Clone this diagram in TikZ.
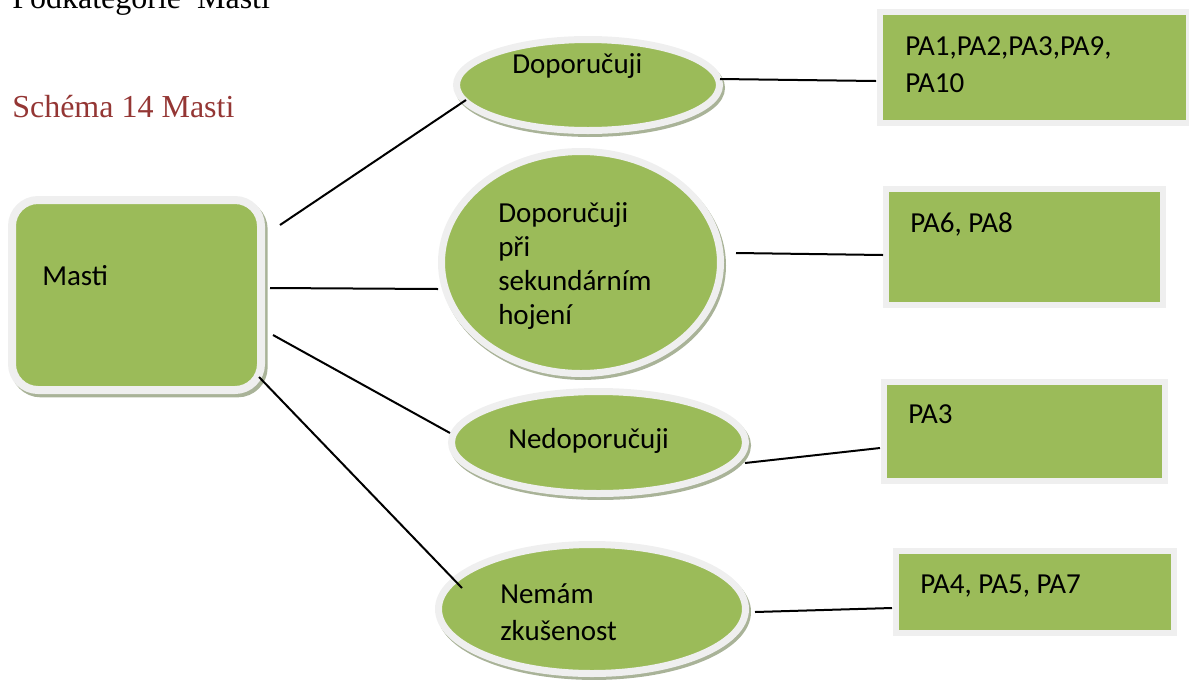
\documentclass[tikz,border=0pt]{standalone}
\usepackage{fontspec}
\setmainfont{Liberation Serif}
\newfontfamily\calib{Carlito}
\usetikzlibrary{shapes.geometric}
\definecolor{olgreen}{HTML}{9BBB59}
\definecolor{rimc}{HTML}{EFEFEF}
\definecolor{shadc}{HTML}{A9B398}
\definecolor{titred}{HTML}{943634}
\def\pxu{0.75pt}
\tikzset{
  ell/.style={ellipse, inner sep=0pt, fill=olgreen, draw=rimc, line width=7*\pxu,
    preaction={draw=shadc, fill=shadc, line width=7*\pxu, transform canvas={shift={(1.5pt,-2.2pt)}}}},
  rbox/.style={rectangle, inner sep=0pt, fill=olgreen, draw=rimc, line width=6*\pxu},
  mbox/.style={rectangle, rounded corners=26*\pxu, inner sep=0pt, fill=olgreen, draw=rimc, line width=8*\pxu,
    preaction={draw=shadc, fill=shadc, line width=8*\pxu, transform canvas={shift={(2pt,-2.5pt)}}}},
  lbl/.style={anchor=base west, inner sep=0pt, font=\calib\fontsize{21.75pt}{26pt}\selectfont},
  conn/.style={draw=black, line width=1.5pt},
}
\begin{document}
\begin{tikzpicture}[x=0.75pt,y=-0.75pt]
\useasboundingbox (0,0) rectangle (1189,679);
% headings
\node[anchor=base west, inner sep=0pt, font=\fontsize{24pt}{28pt}\selectfont] (podk) at (12,8) {Podkategorie\ \ Masti};
\node[anchor=base west, inner sep=0pt, text=titred, font=\fontsize{24pt}{28pt}\selectfont] (schema) at (12,117) {Schéma 14 Masti};
% main box
\node[mbox, minimum width=249*\pxu, minimum height=190*\pxu] (masti) at (136.5,295) {};
\node[lbl] (mastit) at (42,285) {Masti};
% ellipses
\node[ell, minimum width=263*\pxu, minimum height=91*\pxu] (e1) at (588,85) {};
\node[lbl] (e1t) at (512,73) {Doporučuji};
\node[ell, minimum width=279*\pxu, minimum height=222*\pxu] (e2) at (581,262.5) {};
\node[lbl] (e2a) at (498,222) {Doporučuji};
\node[lbl] (e2b) at (498,256) {při};
\node[lbl] (e2c) at (498,290.5) {sekundárním};
\node[lbl] (e2d) at (498,324.5) {hojení};
\node[ell, minimum width=294*\pxu, minimum height=102*\pxu] (e3) at (598.5,442.5) {};
\node[lbl] (e3t) at (508,448) {Nedoporučuji};
\node[ell, minimum width=307*\pxu, minimum height=129*\pxu] (e4) at (592,609) {};
\node[lbl] (e4a) at (500,603) {Nemám};
\node[lbl] (e4b) at (500,640) {zkušenost};
% rectangles
\node[rbox, minimum width=309*\pxu, minimum height=111*\pxu] (r1) at (1034,67.5) {};
\node[lbl] (r1a) at (905,55) {PA1,PA2,PA3,PA9,};
\node[lbl] (r1b) at (905,92) {PA10};
\node[rbox, minimum width=277*\pxu, minimum height=116*\pxu] (r2) at (1024.5,247) {};
\node[lbl] (r2t) at (910,232) {PA6, PA8};
\node[rbox, minimum width=281*\pxu, minimum height=99*\pxu] (r3) at (1024.5,431.5) {};
\node[lbl] (r3t) at (908,423) {PA3};
\node[rbox, minimum width=278*\pxu, minimum height=82*\pxu] (r4) at (1035,592) {};
\node[lbl] (r4t) at (920,593) {PA4, PA5, PA7};
% connector end points
\coordinate (m1) at (280,225);  \coordinate (e1l) at (466,100);
\coordinate (m2) at (270,288);  \coordinate (e2l) at (438,289);
\coordinate (m3) at (273,335);  \coordinate (e3l) at (450,433);
\coordinate (m4) at (259,377);  \coordinate (e4l) at (462,588);
\coordinate (e1r) at (720,79);  \coordinate (r1l) at (876,81);
\coordinate (e2r) at (736,253); \coordinate (r2l) at (883,255);
\coordinate (e3r) at (745,463); \coordinate (r3l) at (880,448);
\coordinate (e4r) at (755,612); \coordinate (r4l) at (892,608);
\draw[conn] (m1) -- (e1l);
\draw[conn] (m2) -- (e2l);
\draw[conn] (m3) -- (e3l);
\draw[conn] (m4) -- (e4l);
\draw[conn] (e1r) -- (r1l);
\draw[conn] (e2r) -- (r2l);
\draw[conn] (e3r) -- (r3l);
\draw[conn] (e4r) -- (r4l);
\end{tikzpicture}
\end{document}
